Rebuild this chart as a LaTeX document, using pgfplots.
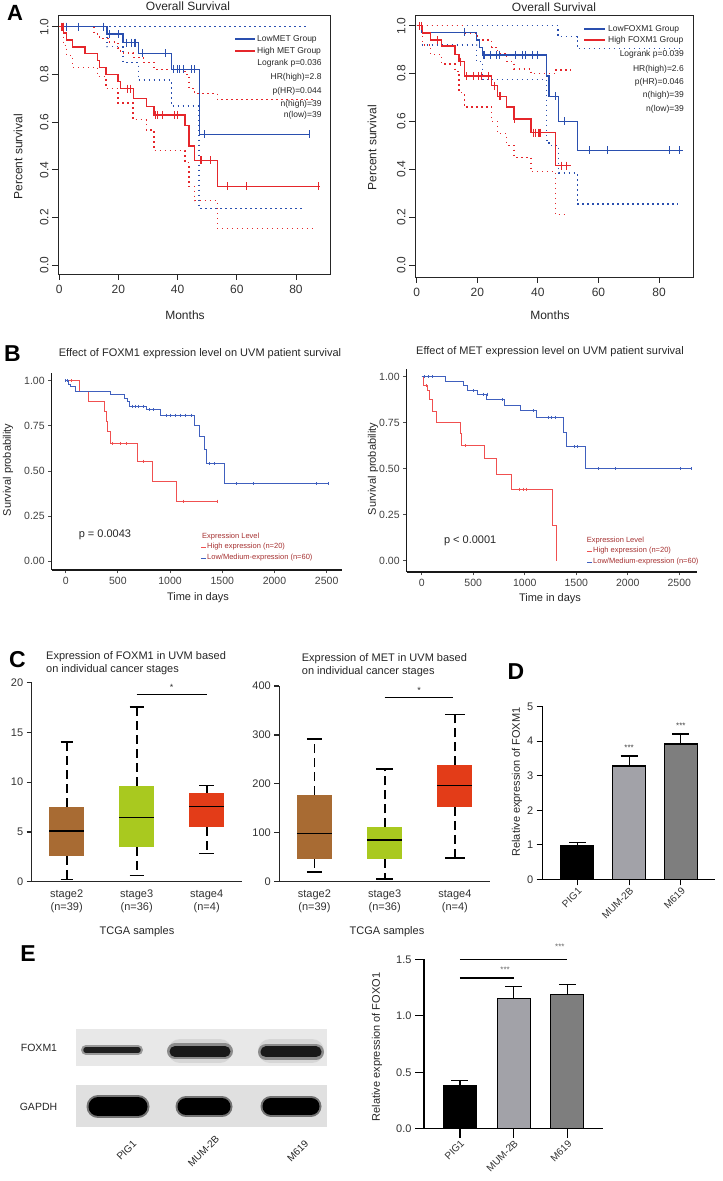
\documentclass[border=0pt]{standalone}
\usepackage{pgfplots}
\pgfplotsset{compat=1.18}
\usepackage{fontspec}
\setmainfont{Liberation Sans}
\definecolor{kmblue}{HTML}{2A4FAF}
\definecolor{kmred}{HTML}{E5262B}
\definecolor{bblue}{HTML}{4060BE}
\definecolor{bred}{HTML}{F05050}
\definecolor{legred}{HTML}{A53030}
\definecolor{boxbrown}{HTML}{A86B33}
\definecolor{boxlime}{HTML}{A9C91F}
\definecolor{boxred}{HTML}{E33C18}
\definecolor{bargrayA}{HTML}{A2A2A8}
\definecolor{bargrayB}{HTML}{7E7E7E}
\newcommand\fs[1]{\fontsize{#1}{#1}\selectfont}
\pgfplotsset{
  every axis/.append style={/pgf/number format/assume math mode=true},
  dotline/.style={line width=1.4pt, dash pattern=on 1.4pt off 3.6pt},
  cens/.style={only marks, mark=|, mark size=4pt, mark options={line width=1.1pt}},
  censB/.style={only marks, mark=|, mark size=1.5pt, mark options={line width=0.7pt}},
  kmA/.style={scale only axis, anchor=south west, clip=false,
    axis line style={line width=0.9pt,black!85},
    tick style={line width=0.9pt,black!85}, tick align=outside, tick pos=left,
    major tick length=6pt,
    xtick={0,20,40,60,80}, ytick={0,0.2,0.4,0.6,0.8,1},
    tick label style={font=\fs{12}, text=black!80},
    yticklabel style={rotate=90, anchor=south, /pgf/number format/.cd, fixed, fixed zerofill, precision=1},
    xticklabel style={yshift=-2pt}},
  kmB/.style={scale only axis, anchor=south west, clip=false,
    axis lines*=left, axis line style={line width=1.3pt,black!90},
    tick style={line width=0.9pt,black!70}, tick align=outside,
    major tick length=3.5pt,
    xtick={0,500,1000,1500,2000,2500}, ytick={0,0.25,0.5,0.75,1},
    tick label style={font=\fs{10.5}, text=black!75},
    yticklabel style={/pgf/number format/.cd, fixed, fixed zerofill, precision=2},
    xticklabel style={/pgf/number format/.cd, 1000 sep={}}},
  boxC/.style={scale only axis, anchor=south west, clip=false,
    axis lines*=left, axis line style={line width=1.3pt,black!85},
    xmin=-0.5, xmax=2.5, xtick={0,1,2},
    xticklabels={{stage2\\(n=39)},{stage3\\(n=36)},{stage4\\(n=4)}},
    major x tick style={draw=none},
    ytick style={line width=1.2pt,black!85}, tick align=outside, major tick length=5pt,
    tick label style={font=\fs{11}, text=black!80},
    xticklabel style={align=center, font=\fontsize{11}{13}\selectfont}},
  barD/.style={scale only axis, anchor=south west, clip=false,
    axis lines*=left, axis line style={line width=1.3pt,black},
    xtick={0,1,2}, xticklabels={PIG1,MUM-2B,M619},
    tick align=outside, tick style={line width=1.2pt,black},
    tick label style={font=\fs{11}, text=black!80},
    xticklabel style={rotate=45, anchor=north east, font=\fs{10}, inner sep=1pt}},
  ebar/.style={ybar, bar width=33pt, bar shift=0pt, draw=black, line width=1.2pt,
    error bars/.cd, y dir=plus, y explicit, error bar style={line width=1.2pt,black},
    error mark options={rotate=90, line width=1.2pt, mark size=8.5pt, black}},
}
\begin{document}
\begin{tikzpicture}
\useasboundingbox (0pt,0pt) rectangle (723pt,1181pt);
% ---------- panel letters
\node[font=\bfseries\fs{22}] at (15pt,1168.5pt) {A};
\node[font=\bfseries\fs{23}] at (12.5pt,827.5pt) {B};
\node[font=\bfseries\fs{23}] at (17.5pt,521pt) {C};
\node[font=\bfseries\fs{23}] at (516pt,509.5pt) {D};
\node[font=\bfseries\fs{23}] at (28pt,227.5pt) {E};

% ================= A left
\begin{axis}[kmA, at={(58pt,907pt)}, width=272pt, height=259pt,
  xmin=-0.4, xmax=91.5, ymin=-0.037, ymax=1.049]
\addplot[const plot, kmblue, dotline] coordinates {(0,1)(83.6,1)};
\addplot[const plot, kmblue, dotline] coordinates {(16.2,1)(16.2,0.916)(21.6,0.849)(26.7,0.776)(37.9,0.667)(47.3,0.238)(83,0.238)};
\addplot[const plot, kmred, dotline] coordinates {(0,1)(11.8,0.97)(13.7,0.95)(17,0.935)(19.9,0.91)(20.7,0.89)(25,0.87)(28.4,0.85)(32,0.82)(42.5,0.80)(43.9,0.74)(45.8,0.72)(53.4,0.695)(86.4,0.695)};
\addplot[const plot, kmred, dotline] coordinates {(1.5,1)(1.5,0.92)(2.5,0.88)(4.5,0.83)(13,0.79)(15.8,0.74)(19.9,0.68)(25,0.61)(29.5,0.566)(32,0.48)(42.5,0.43)(43.9,0.33)(45.8,0.27)(53.4,0.154)(86.4,0.154)};
\addplot[const plot, kmblue, line width=1.3pt] coordinates {(0,1)(16.2,0.969)(21.6,0.933)(26.7,0.888)(37.9,0.821)(47.3,0.548)(84.7,0.548)};
\addplot[const plot, kmred, line width=1.3pt] coordinates {(0,1)(1.5,0.974)(2.5,0.944)(4.5,0.915)(8.7,0.887)(13,0.857)(13.7,0.828)(15.8,0.80)(19.9,0.77)(20.7,0.74)(25,0.70)(29.5,0.665)(32,0.63)(42.5,0.585)(43.9,0.50)(45.8,0.44)(53.4,0.33)(88,0.33)};
\addplot[cens, kmblue] coordinates {(1.35,1)(2.5,1)(6.6,1)(15.1,1)(16.9,0.969)(19.9,0.969)(22.7,0.933)(24.4,0.933)(25.6,0.933)(28.2,0.888)(35.9,0.888)(38.7,0.821)(40,0.821)(40.8,0.821)(41.9,0.821)(44.7,0.821)(45.8,0.821)(49.2,0.548)(84.5,0.548)};
\addplot[cens, kmred] coordinates {(0.8,1)(1.3,1)(23,0.74)(24,0.74)(32.5,0.63)(33.3,0.63)(35,0.63)(39,0.63)(40,0.63)(47.9,0.44)(51.1,0.44)(57,0.33)(63.3,0.33)(87.5,0.33)};
\end{axis}
\node[font=\fs{12}, text=black!85] at (188pt,1175pt) {Overall Survival};
\node[font=\fs{12}, text=black!85, rotate=90] at (18pt,1024pt) {Percent survival};
\node[font=\fs{12}, text=black!85] at (185pt,866pt) {Months};
\draw[kmblue, line width=1.2pt] (235pt,1142pt) -- (255pt,1142pt);
\draw[kmred, line width=1.2pt] (235pt,1130pt) -- (255pt,1130pt);
\begin{scope}[every node/.style={font=\fs{8.5}, text=black!85, inner sep=0pt}]
\node[anchor=west] at (257pt,1142pt) {LowMET Group};
\node[anchor=west] at (257pt,1130pt) {High MET Group};
\node[anchor=east] at (321.7pt,1118pt) {Logrank p=0.036};
\node[anchor=east] at (321.7pt,1104pt) {HR(high)=2.8};
\node[anchor=east] at (321.7pt,1090pt) {p(HR)=0.044};
\node[anchor=east] at (321.7pt,1077pt) {n(high)=39};
\node[anchor=east] at (321.7pt,1066pt) {n(low)=39};
\end{scope}

% ================= A right
\begin{axis}[kmA, at={(415pt,904pt)}, width=278pt, height=262pt,
  xmin=-0.56, xmax=91.2, ymin=-0.05, ymax=1.045]
\addplot[const plot, kmblue, dotline] coordinates {(0,1)(46.7,0.955)(53,0.905)(86.8,0.905)};
\addplot[const plot, kmblue, dotline] coordinates {(1.6,0.92)(19.8,0.85)(21.8,0.775)(42.9,0.52)(43.7,0.50)(46.9,0.385)(53,0.255)(86.4,0.255)};
\addplot[const plot, kmred, dotline] coordinates {(0,1)(15.7,0.97)(20,0.94)(24.7,0.91)(26.7,0.885)(29.7,0.85)(32.1,0.82)(37.7,0.80)(45.9,0.815)(50.8,0.815)};
\addplot[const plot, kmred, dotline] coordinates {(2,1)(2,0.92)(4.6,0.88)(8.2,0.84)(12.6,0.81)(14,0.72)(15.7,0.66)(24.7,0.60)(26.7,0.55)(29.7,0.50)(32.1,0.45)(37.7,0.39)(45.9,0.21)(49.8,0.21)};
\addplot[const plot, kmblue, line width=1.3pt] coordinates {(0,1)(1.6,0.972)(19.8,0.94)(20.7,0.91)(21.8,0.878)(42.9,0.79)(43.7,0.705)(46.9,0.60)(53,0.48)(87.9,0.48)};
\addplot[const plot, kmred, line width=1.3pt] coordinates {(0,1)(2,0.97)(4.6,0.94)(8.2,0.915)(12.6,0.88)(14,0.85)(15.7,0.79)(24.7,0.75)(26.7,0.705)(29.7,0.66)(32.1,0.61)(37.7,0.553)(45.9,0.415)(50.8,0.415)};
\addplot[cens, kmblue] coordinates {(15.7,0.972)(22.2,0.878)(24.5,0.878)(26.4,0.878)(27.3,0.878)(32.7,0.878)(34.9,0.878)(36,0.878)(38.2,0.878)(39.9,0.878)(45.9,0.705)(48.9,0.60)(56.9,0.48)(62.9,0.48)(83.5,0.48)(86.8,0.48)};
\addplot[cens, kmred] coordinates {(0.9,1)(1.6,1)(6.8,0.94)(14.4,0.85)(16.5,0.79)(18.7,0.79)(20.3,0.79)(21.4,0.79)(23.6,0.79)(25.6,0.75)(27.5,0.705)(32.2,0.61)(38.5,0.553)(39.3,0.553)(40.1,0.553)(40.7,0.553)(47.8,0.415)(49.5,0.415)};
\end{axis}
\node[font=\fs{12}, text=black!85] at (554pt,1174pt) {Overall Survival};
\node[font=\fs{12}, text=black!85, rotate=90] at (372pt,1033pt) {Percent survival};
\node[font=\fs{12}, text=black!85] at (550pt,866pt) {Months};
\draw[kmblue, line width=1.2pt] (584pt,1152pt) -- (605pt,1152pt);
\draw[kmred, line width=1.2pt] (584pt,1141pt) -- (605pt,1141pt);
\begin{scope}[every node/.style={font=\fs{8.5}, text=black!85, inner sep=0pt}]
\node[anchor=west] at (608pt,1152pt) {LowFOXM1 Group};
\node[anchor=west] at (608pt,1141pt) {High FOXM1 Group};
\node[anchor=east] at (684pt,1127pt) {Logrank p=0.039};
\node[anchor=east] at (684pt,1112pt) {HR(high)=2.6};
\node[anchor=east] at (684pt,1099pt) {p(HR)=0.046};
\node[anchor=east] at (684pt,1086pt) {n(high)=39};
\node[anchor=east] at (684pt,1072pt) {n(low)=39};
\end{scope}

% ================= B left
\begin{axis}[kmB, at={(51.7pt,611pt)}, width=290pt, height=197pt,
  xmin=-134, xmax=2644, ymin=-0.05, ymax=1.044]
\addplot[const plot, bred, line width=0.9pt] coordinates {(0,1)(131,0.944)(217,0.888)(370,0.833)(386,0.777)(399,0.722)(425,0.65)(690,0.555)(830,0.444)(1063,0.333)(1453,0.333)};
\addplot[const plot, bblue, line width=0.9pt] coordinates {(0,1)(26,0.983)(48,0.967)(89,0.944)(425,0.925)(559,0.905)(591,0.888)(610,0.86)(776,0.84)(904,0.81)(1233,0.75)(1277,0.69)(1325,0.62)(1351,0.54)(1517,0.43)(2515,0.43)};
\addplot[censB, bred] coordinates {(57,1)(450,0.65)(520,0.65)(580,0.65)(745,0.555)(1127,0.333)(1453,0.333)};
\addplot[censB, bblue] coordinates {(0,1)(15,1)(640,0.86)(670,0.86)(700,0.86)(740,0.86)(800,0.84)(840,0.84)(960,0.81)(1000,0.81)(1050,0.81)(1100,0.81)(1150,0.81)(1200,0.81)(1380,0.54)(1420,0.54)(1638,0.43)(1798,0.43)(2404,0.43)(2515,0.43)};
\node[font=\fs{11}, text=black!85] at (axis cs:376,0.144) {p = 0.0043};
\end{axis}
\node[font=\fs{11}, text=black!85] at (200pt,827pt) {Effect of FOXM1 expression level on UVM patient survival};
\node[font=\fs{11}, text=black!85, rotate=90] at (8pt,711pt) {Survival probability};
\node[font=\fs{11}, text=black!85] at (198pt,583pt) {Time in days};
\begin{scope}[every node/.style={font=\fs{7.5}, text=legred, inner sep=0pt, anchor=west}]
\node at (202pt,644pt) {Expression Level};
\node at (207pt,634pt) {High expression (n=20)};
\node at (207pt,623pt) {Low/Medium-expression (n=60)};
\end{scope}
\draw[bred, line width=0.8pt] (201pt,634pt) -- (206pt,634pt);
\draw[bblue, line width=0.8pt] (201pt,623pt) -- (206pt,623pt);

% ================= B right
\begin{axis}[kmB, at={(406.7pt,609pt)}, width=290pt, height=203pt,
  xmin=-146, xmax=2669, ymin=-0.06, ymax=1.042]
\addplot[const plot, bred, line width=0.9pt] coordinates {(0,1)(20,0.95)(60,0.925)(75,0.875)(107,0.81)(139,0.75)(378,0.69)(388,0.625)(605,0.555)(721,0.47)(873,0.39)(1271,0.19)(1310,0)};
\addplot[const plot, bblue, line width=0.9pt] coordinates {(0,1)(226,0.975)(404,0.95)(443,0.925)(540,0.905)(631,0.875)(799,0.845)(954,0.815)(1116,0.78)(1374,0.70)(1407,0.62)(1585,0.50)(2620,0.50)};
\addplot[censB, bred] coordinates {(45,0.95)(420,0.625)(950,0.39)(985,0.39)(1020,0.39)};
\addplot[censB, bblue] coordinates {(30,1)(60,1)(100,1)(501,0.925)(600,0.905)(640,0.905)(780,0.875)(1080,0.815)(1230,0.78)(1260,0.78)(1300,0.78)(1480,0.62)(1510,0.62)(1714,0.50)(1876,0.50)(2506,0.50)(2620,0.50)};
\node[font=\fs{11}, text=black!85] at (axis cs:470,0.11) {p < 0.0001};
\end{axis}
\node[font=\fs{11}, text=black!85] at (550pt,829pt) {Effect of MET expression level on UVM patient survival};
\node[font=\fs{11}, text=black!85, rotate=90] at (373pt,712pt) {Survival probability};
\node[font=\fs{11}, text=black!85] at (550pt,582pt) {Time in days};
\begin{scope}[every node/.style={font=\fs{7.5}, text=legred, inner sep=0pt, anchor=west}]
\node at (586.7pt,640pt) {Expression Level};
\node at (593pt,630pt) {High expression (n=20)};
\node at (593pt,619pt) {Low/Medium-expression (n=60)};
\end{scope}
\draw[bred, line width=0.8pt] (587pt,630pt) -- (592pt,630pt);
\draw[bblue, line width=0.8pt] (587pt,619pt) -- (592pt,619pt);

% ================= C left
\begin{axis}[boxC, at={(31.7pt,299.3pt)}, width=210pt, height=199pt,
  ymin=0, ymax=20, ytick={0,5,10,15,20}]
\addplot[black, line width=1.8pt, dash pattern=on 9pt off 5pt] coordinates {(0,7.54)(0,14.04)};
\addplot[black, line width=1.8pt, dash pattern=on 9pt off 5pt] coordinates {(0,2.6)(0,0.24)};
\addplot[black, line width=1.6pt] coordinates {(-0.085,14.04)(0.085,14.04)};
\addplot[black, line width=1.6pt] coordinates {(-0.085,0.24)(0.085,0.24)};
\addplot[fill=boxbrown, draw=none] coordinates {(-0.25,2.6)(0.25,2.6)(0.25,7.54)(-0.25,7.54)} -- cycle;
\addplot[black, line width=1.5pt] coordinates {(-0.25,5.1)(0.25,5.1)};
\addplot[black, line width=1.8pt, dash pattern=on 9pt off 5pt] coordinates {(1,9.62)(1,17.53)};
\addplot[black, line width=1.8pt, dash pattern=on 9pt off 5pt] coordinates {(1,3.49)(1,0.64)};
\addplot[black, line width=1.6pt] coordinates {(0.9,17.53)(1.1,17.53)};
\addplot[black, line width=1.6pt] coordinates {(0.9,0.64)(1.1,0.64)};
\addplot[fill=boxlime, draw=none] coordinates {(0.75,3.49)(1.25,3.49)(1.25,9.62)(0.75,9.62)} -- cycle;
\addplot[black, line width=1.5pt] coordinates {(0.75,6.47)(1.25,6.47)};
\addplot[black, line width=1.8pt, dash pattern=on 9pt off 5pt] coordinates {(2,8.91)(2,9.65)};
\addplot[black, line width=1.8pt, dash pattern=on 9pt off 5pt] coordinates {(2,5.47)(2,2.85)};
\addplot[black, line width=1.6pt] coordinates {(1.89,9.65)(2.11,9.65)};
\addplot[black, line width=1.6pt] coordinates {(1.89,2.85)(2.11,2.85)};
\addplot[fill=boxred, draw=none] coordinates {(1.75,5.47)(2.25,5.47)(2.25,8.91)(1.75,8.91)} -- cycle;
\addplot[black, line width=1.5pt] coordinates {(1.75,7.54)(2.25,7.54)};
\addplot[black, line width=1.2pt] coordinates {(1,18.8)(2.01,18.8)};
\node[font=\fs{9}, text=black!80] at (axis cs:1.5,19.5) {*};
\end{axis}
\begin{scope}[every node/.style={font=\fs{11}, text=black!85, inner sep=0pt, anchor=west}]
\node at (46pt,524pt) {Expression of FOXM1 in UVM based};
\node at (46pt,511pt) {on individual cancer stages};
\node at (301.7pt,522pt) {Expression of MET in UVM based};
\node at (301.7pt,509pt) {on individual cancer stages};
\end{scope}
\node[font=\fs{11}, text=black!85] at (137pt,249pt) {TCGA samples};
\node[font=\fs{11}, text=black!85] at (387pt,249pt) {TCGA samples};

% ================= C right
\begin{axis}[boxC, at={(279.3pt,299.3pt)}, width=210.7pt, height=195.7pt,
  ymin=0, ymax=400, ytick={0,100,200,300,400}]
\addplot[black, line width=1.8pt, dash pattern=on 9pt off 5pt] coordinates {(0,177)(0,292)};
\addplot[black, line width=1.8pt, dash pattern=on 9pt off 5pt] coordinates {(0,45.8)(0,20.4)};
\addplot[black, line width=1.6pt] coordinates {(-0.107,292)(0.107,292)};
\addplot[black, line width=1.6pt] coordinates {(-0.107,20.4)(0.107,20.4)};
\addplot[fill=boxbrown, draw=none] coordinates {(-0.25,45.8)(0.25,45.8)(0.25,177)(-0.25,177)} -- cycle;
\addplot[black, line width=1.5pt] coordinates {(-0.25,99)(0.25,99)};
\addplot[black, line width=1.8pt, dash pattern=on 9pt off 5pt] coordinates {(1,111)(1,230)};
\addplot[black, line width=1.8pt, dash pattern=on 9pt off 5pt] coordinates {(1,45.8)(1,5)};
\addplot[black, line width=1.6pt] coordinates {(0.88,230)(1.12,230)};
\addplot[black, line width=1.6pt] coordinates {(0.88,5)(1.12,5)};
\addplot[fill=boxlime, draw=none] coordinates {(0.75,45.8)(1.25,45.8)(1.25,111)(0.75,111)} -- cycle;
\addplot[black, line width=1.5pt] coordinates {(0.75,85)(1.25,85)};
\addplot[black, line width=1.8pt, dash pattern=on 9pt off 5pt] coordinates {(2,238)(2,341.5)};
\addplot[black, line width=1.8pt, dash pattern=on 9pt off 5pt] coordinates {(2,153)(2,48)};
\addplot[black, line width=1.6pt] coordinates {(1.86,341.5)(2.14,341.5)};
\addplot[black, line width=1.6pt] coordinates {(1.86,48)(2.14,48)};
\addplot[fill=boxred, draw=none] coordinates {(1.75,153)(2.25,153)(2.25,238)(1.75,238)} -- cycle;
\addplot[black, line width=1.5pt] coordinates {(1.75,197)(2.25,197)};
\addplot[black, line width=1.2pt] coordinates {(1,377)(1.98,377)};
\node[font=\fs{9}, text=black!80] at (axis cs:1.49,391) {*};
\end{axis}

% ================= D
\begin{axis}[barD, at={(542.7pt,301.7pt)}, width=172.3pt, height=172.6pt,
  xmin=-0.67, xmax=2.66, ymin=0, ymax=5, ytick={0,1,2,3,4,5}, major tick length=6pt]
\addplot[fill=black, ebar] coordinates {(0,0.985) +- (0,0.075)};
\addplot[fill=bargrayA, ebar] coordinates {(1,3.28) +- (0,0.29)};
\addplot[fill=bargrayB, ebar] coordinates {(2,3.92) +- (0,0.29)};
\node[font=\fs{8}, text=black!75] at (axis cs:1,3.82) {***};
\node[font=\fs{8}, text=black!75] at (axis cs:2,4.45) {***};
\end{axis}
\node[font=\fs{11}, text=black!85, rotate=90] at (517pt,399pt) {Relative expression of FOXM1};

% ================= E western blot
\begin{axis}[at={(76pt,54.3pt)}, anchor=south west, scale only axis, hide axis,
  width=251pt, height=97.7pt, xmin=76, xmax=327, ymin=54.3, ymax=152, clip=false]
\addplot[fill=black!9, draw=none] coordinates {(76,115.3)(327,115.3)(327,152)(76,152)} -- cycle;
\addplot[fill=black!12, draw=none] coordinates {(76,54.3)(327,54.3)(327,96)(76,96)} -- cycle;
\addplot[black!16, line width=24pt, line cap=round] coordinates {(180,130)(220,130)};
\addplot[black!16, line width=24pt, line cap=round] coordinates {(270,130)(312,130)};
\addplot[black!40, line width=10pt, line cap=round] coordinates {(86,131)(138,131)};
\addplot[black!88, line width=5.5pt, line cap=round] coordinates {(86,131)(138,131)};
\addplot[black!45, line width=16pt, line cap=round] coordinates {(175,129.5)(225,129.5)};
\addplot[black!90, line width=11pt, line cap=round] coordinates {(175,129.5)(225,129.5)};
\addplot[black!45, line width=16pt, line cap=round] coordinates {(266,129)(316,129)};
\addplot[black!90, line width=11pt, line cap=round] coordinates {(266,129)(316,129)};
\addplot[black!55, line width=23pt, line cap=round] coordinates {(98,74.3)(138,74.3)};
\addplot[black, line width=19pt, line cap=round] coordinates {(98,74.3)(138,74.3)};
\addplot[black!55, line width=21pt, line cap=round] coordinates {(186,74.3)(222,74.3)};
\addplot[black, line width=17pt, line cap=round] coordinates {(186,74.3)(222,74.3)};
\addplot[black!55, line width=21pt, line cap=round] coordinates {(271,74.8)(311,74.8)};
\addplot[black, line width=17pt, line cap=round] coordinates {(271,74.8)(311,74.8)};
\end{axis}
\node[font=\fs{10.5}, text=black!85] at (39pt,133pt) {FOXM1};
\node[font=\fs{10.5}, text=black!85] at (38.5pt,74pt) {GAPDH};
\begin{scope}[every node/.style={font=\fs{10}, text=black!85, rotate=45, anchor=north east, inner sep=1pt}]
\node at (132pt,43pt) {PIG1};
\node at (215pt,48pt) {MUM-2B};
\node at (304pt,43pt) {M619};
\end{scope}

% ================= E bar chart
\begin{axis}[barD, at={(424pt,52.3pt)}, width=179.3pt, height=169.4pt,
  xmin=-0.67, xmax=2.67, ymin=0, ymax=1.5, ytick={0,0.5,1,1.5}, major tick length=9pt,
  yticklabel style={/pgf/number format/.cd, fixed, fixed zerofill, precision=1}]
\addplot[fill=black, ebar] coordinates {(0,0.378) +- (0,0.047)};
\addplot[fill=bargrayA, ebar] coordinates {(1,1.151) +- (0,0.107)};
\addplot[fill=bargrayB, ebar] coordinates {(2,1.19) +- (0,0.09)};
\addplot[black, line width=1.2pt] coordinates {(0,1.335)(1,1.335)};
\addplot[black, line width=1.2pt] coordinates {(0,1.495)(2,1.495)};
\node[font=\fs{8}, text=black!60] at (axis cs:0.84,1.41) {***};
\node[font=\fs{8}, text=black!60] at (axis cs:1.86,1.61) {***};
\end{axis}
\node[font=\fs{11}, text=black!85, rotate=90] at (377pt,134pt) {Relative expression of FOXO1};
\end{tikzpicture}
\end{document}
